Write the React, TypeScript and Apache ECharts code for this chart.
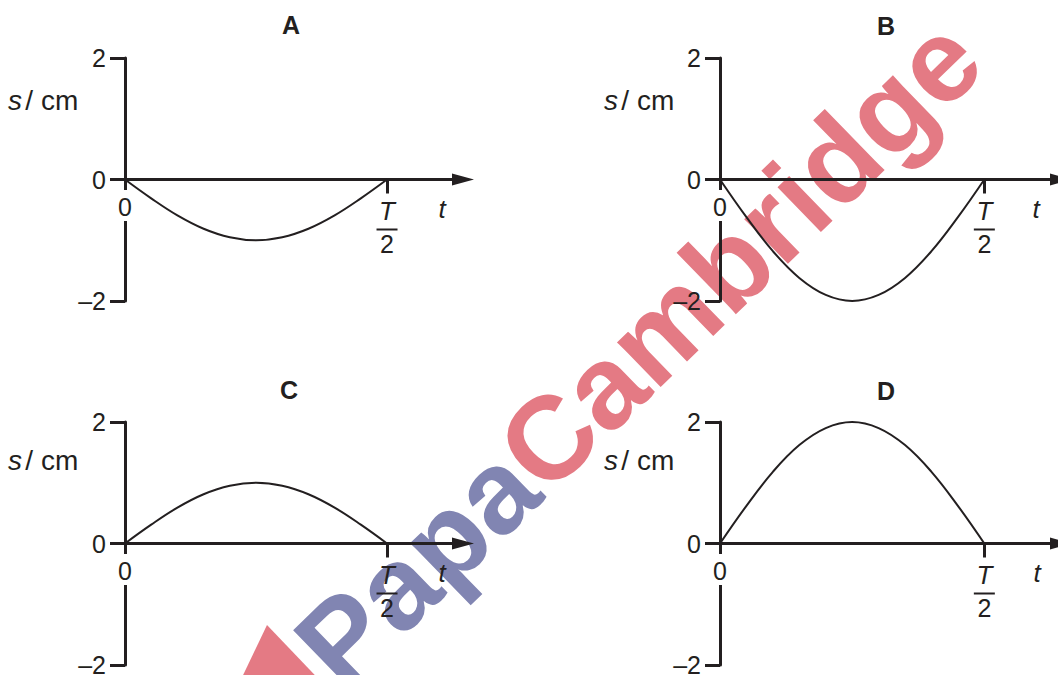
import React, { useEffect, useRef } from 'react';
import * as echarts from 'echarts';

// ---- data ----
const PANEL_NAMES = ['A', 'B', 'C', 'D'];
// t as a fraction of T/2
const T_POINTS = [0, 0.1, 0.2, 0.3, 0.4, 0.5, 0.6, 0.7, 0.8, 0.9, 1];
const S_A = [0, -0.31, -0.59, -0.81, -0.95, -1, -0.95, -0.81, -0.59, -0.31, 0];
const S_B = [0, -0.62, -1.18, -1.62, -1.9, -2, -1.9, -1.62, -1.18, -0.62, 0];
const S_C = [0, 0.31, 0.59, 0.81, 0.95, 1, 0.95, 0.81, 0.59, 0.31, 0];
const S_D = [0, 0.62, 1.18, 1.62, 1.9, 2, 1.9, 1.62, 1.18, 0.62, 0];
const Y_TICKS = [-2, 0, 2];
const X_TICKS = [0, 1]; // 0 and T/2
const Y_NAME = 's / cm';
const X_NAME = 't';

const SERIES = [S_A, S_B, S_C, S_D];

const INK = '#231f20';
const FONT = '"Liberation Sans", Arial, Helvetica, sans-serif';
const XMAX = 1.29;

const LAYOUT = [
  { left: 125, top: 58, unit: 262, titleX: 291, titleY: 25, sX: 8, sY: 100, tX: 442, tY: 209 },
  { left: 720, top: 58, unit: 264, titleX: 886, titleY: 26, sX: 604, sY: 100, tX: 1036, tY: 209 },
  { left: 125, top: 422, unit: 262, titleX: 289, titleY: 390, sX: 8, sY: 460, tX: 442, tY: 573 },
  { left: 720, top: 422, unit: 264, titleX: 886, titleY: 391, sX: 604, sY: 460, tX: 1037, tY: 573 },
];
const GRID_H = 243;

export default function App() {
  const ref = useRef<HTMLDivElement>(null);
  useEffect(() => {
    if (!ref.current) return;
    const chart = echarts.init(ref.current, undefined, { renderer: 'svg' });

    const grids = LAYOUT.map((l) => ({
      left: l.left,
      top: l.top,
      width: Math.round(l.unit * XMAX),
      height: GRID_H,
      containLabel: false,
      outerBoundsMode: 'none',
    }));

    const xAxes = LAYOUT.map((_, i) => ({
      gridIndex: i,
      type: 'value',
      position: 'bottom',
      offset: -GRID_H / 2,
      min: 0,
      max: XMAX,
      axisLine: {
        show: true,
        onZero: false,
        symbol: ['none', 'triangle'],
        symbolSize: [12, 22],
        lineStyle: { color: INK, width: 3 },
      },
      axisTick: { show: true, customValues: X_TICKS, length: 14, lineStyle: { color: INK, width: 3 } },
      axisLabel: {
        show: true,
        customValues: X_TICKS,
        margin: 14,
        color: INK,
        fontFamily: FONT,
        hideOverlap: false,
        formatter: (v: number) => (v === 0 ? '{z|0}' : '{t|T}\n{bar|}\n{d|2}'),
        rich: {
          z: { fontSize: 25, lineHeight: 24, fontFamily: FONT, color: INK, backgroundColor: '#fff', padding: [4, 5, 2, 5] },
          t: { fontSize: 26, lineHeight: 34, fontStyle: 'italic', fontFamily: FONT, color: INK },
          bar: { width: 21, height: 2, lineHeight: 4, backgroundColor: INK },
          d: { fontSize: 25, lineHeight: 24, fontFamily: FONT, color: INK },
        },
      },
      splitLine: { show: false },
    }));

    const yAxes = LAYOUT.map((_, i) => ({
      gridIndex: i,
      type: 'value',
      min: Y_TICKS[0],
      max: Y_TICKS[Y_TICKS.length - 1],
      interval: 2,
      axisLine: { show: true, onZero: false, lineStyle: { color: INK, width: 3 } },
      axisTick: { show: true, length: 15, lineStyle: { color: INK, width: 3 } },
      axisLabel: {
        show: true,
        margin: 19,
        fontSize: 25,
        fontFamily: FONT,
        color: INK,
        hideOverlap: false,
        formatter: (v: number) => (v < 0 ? '\u2013' + Math.abs(v) : String(v)),
      },
      splitLine: { show: false },
    }));

    const series = SERIES.map((vals, i) => ({
      type: 'line',
      xAxisIndex: i,
      yAxisIndex: i,
      data: T_POINTS.map((t, k) => [t, vals[k]]),
      smooth: 0.4,
      symbol: 'none',
      showSymbol: false,
      clip: false,
      lineStyle: { color: INK, width: 2 },
      z: 3,
    }));

    const texts: any[] = [];
    LAYOUT.forEach((l, i) => {
      texts.push({
        type: 'text',
        x: l.titleX,
        y: l.titleY,
        z: 5,
        style: {
          text: PANEL_NAMES[i],
          fontSize: 25,
          fontWeight: 'bold',
          fontFamily: FONT,
          fill: INK,
          align: 'center',
          verticalAlign: 'middle',
        },
      });
      texts.push({
        type: 'text',
        x: l.sX,
        y: l.sY,
        z: 5,
        style: {
          text: '{i|' + Y_NAME.charAt(0) + '} {n|' + Y_NAME.slice(2) + '}',
          fontSize: 12,
          fontFamily: FONT,
          fill: INK,
          align: 'left',
          verticalAlign: 'middle',
          rich: {
            i: { fontSize: 28, fontStyle: 'italic', fontFamily: FONT, fill: INK },
            n: { fontSize: 28, fontFamily: FONT, fill: INK },
          },
        },
      });
      texts.push({
        type: 'text',
        x: l.tX,
        y: l.tY,
        z: 5,
        style: {
          text: X_NAME,
          fontSize: 26,
          fontStyle: 'italic',
          fontFamily: FONT,
          fill: INK,
          align: 'center',
          verticalAlign: 'middle',
        },
      });
    });

    const watermark = [
      {
        type: 'polygon',
        z: -2,
        shape: { points: [[267, 625], [331, 692], [235, 692]] },
        style: { fill: '#e47a84' },
      },
      {
        type: 'text',
        x: 638,
        y: 352,
        rotation: 0.77,
        z: -1,
        style: {
          text: '{p|Papa}{c|Cambridge}',
          align: 'center',
          verticalAlign: 'middle',
          fontSize: 118,
          fontWeight: 'bold',
          fontFamily: FONT,
          rich: {
            p: { fill: '#8185b2', fontSize: 118, fontWeight: 'bold', fontFamily: FONT },
            c: { fill: '#e47a84', fontSize: 118, fontWeight: 'bold', fontFamily: FONT },
          },
        },
      },
    ];

    chart.setOption({
      animation: false,
      backgroundColor: '#ffffff',
      grid: grids,
      xAxis: xAxes,
      yAxis: yAxes,
      series,
      graphic: [...watermark, ...texts],
    } as any);

    return () => chart.dispose();
  }, []);

  return (
    <div
      ref={ref}
      style={{ position: 'absolute', left: 0, top: 0, width: 1058, height: 675, background: '#fff' }}
    />
  );
}
